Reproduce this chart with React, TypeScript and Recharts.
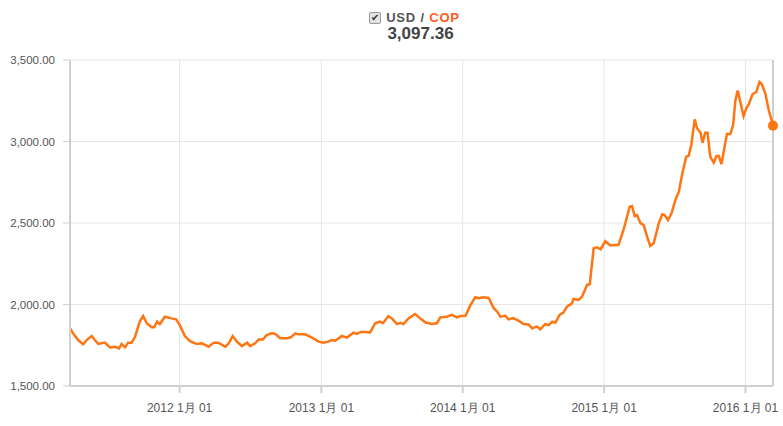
import React from 'react';
import { LineChart, Line, XAxis, YAxis, CartesianGrid, ReferenceLine } from 'recharts';

const dates: string[] = [
  '2011-03-24','2011-04-01','2011-04-14','2011-04-27','2011-05-06','2011-05-19','2011-05-27','2011-06-05','2011-06-22','2011-07-05',
  '2011-07-18','2011-07-29','2011-08-04','2011-08-13','2011-08-21','2011-08-30','2011-09-08','2011-09-20','2011-09-29','2011-10-08',
  '2011-10-21','2011-10-27','2011-11-04','2011-11-11','2011-11-24','2011-12-11','2011-12-23','2012-01-02','2012-01-15','2012-01-28',
  '2012-02-14','2012-02-27','2012-03-16','2012-03-29','2012-04-10','2012-04-28','2012-05-07','2012-05-17','2012-05-28','2012-06-10',
  '2012-06-23','2012-07-01','2012-07-14','2012-07-23','2012-08-03','2012-08-13','2012-08-26','2012-09-04','2012-09-17','2012-10-04',
  '2012-10-13','2012-10-26','2012-11-03','2012-11-20','2012-12-08','2012-12-25','2013-01-06','2013-01-19','2013-01-28','2013-02-06',
  '2013-02-23','2013-03-08','2013-03-25','2013-04-02','2013-04-15','2013-05-07','2013-05-20','2013-05-31','2013-06-09','2013-06-23',
  '2013-07-02','2013-07-15','2013-07-24','2013-08-01','2013-08-14','2013-08-31','2013-09-13','2013-09-26','2013-10-13','2013-10-26',
  '2013-11-04','2013-11-21','2013-12-04','2013-12-17','2013-12-26','2014-01-08','2014-01-21','2014-02-02','2014-02-11','2014-02-24',
  '2014-03-09','2014-03-22','2014-03-31','2014-04-08','2014-04-21','2014-04-29','2014-05-11','2014-05-25','2014-06-07','2014-06-20',
  '2014-06-29','2014-07-12','2014-07-20','2014-08-02','2014-08-11','2014-08-20','2014-08-28','2014-09-08','2014-09-18','2014-09-27',
  '2014-10-10','2014-10-14','2014-10-27','2014-11-05','2014-11-18','2014-11-25','2014-12-05','2014-12-14','2014-12-23','2015-01-04',
  '2015-01-17','2015-01-30','2015-02-07','2015-02-20','2015-03-08','2015-03-14','2015-03-21','2015-03-27','2015-04-05','2015-04-13',
  '2015-04-22','2015-04-30','2015-05-09','2015-05-22','2015-05-31','2015-06-06','2015-06-15','2015-06-24','2015-07-04','2015-07-13',
  '2015-07-21','2015-08-01','2015-08-07','2015-08-14','2015-08-23','2015-08-29','2015-09-07','2015-09-12','2015-09-19','2015-09-25',
  '2015-10-02','2015-10-11','2015-10-18','2015-10-24','2015-10-31','2015-11-08','2015-11-14','2015-11-23','2015-11-30','2015-12-06',
  '2015-12-12','2015-12-19','2015-12-27','2016-01-03','2016-01-10','2016-01-19','2016-01-29','2016-02-06','2016-02-12','2016-02-21',
  '2016-03-01','2016-03-12',
];

const rates: number[] = [
  1855,1823,1782,1756,1782,1807,1782,1758,1766,1737,
  1741,1731,1758,1737,1766,1766,1802,1895,1929,1885,
  1860,1860,1895,1880,1925,1915,1909,1870,1805,1775,
  1758,1762,1741,1766,1766,1741,1762,1807,1772,1745,
  1766,1745,1762,1786,1786,1813,1823,1819,1793,1793,
  1797,1823,1817,1817,1797,1772,1766,1772,1782,1778,
  1807,1797,1827,1819,1833,1829,1885,1895,1885,1929,
  1915,1880,1888,1880,1915,1942,1915,1891,1880,1885,
  1921,1925,1936,1921,1929,1931,1997,2044,2038,2044,
  2040,1977,1956,1925,1931,1909,1917,1901,1880,1878,
  1854,1864,1848,1880,1874,1895,1888,1936,1950,1987,
  2007,2034,2028,2048,2120,2124,2345,2351,2339,2388,
  2362,2365,2365,2457,2600,2604,2543,2549,2498,2488,
  2416,2359,2375,2498,2553,2549,2518,2559,2641,2692,
  2794,2907,2911,2979,3136,3081,3054,2993,3054,3054,
  2907,2870,2911,2911,2862,2968,3046,3046,3101,3255,
  3312,3239,3156,3204,3230,3290,3304,3365,3353,3296,
  3193,3097.36,
];

const xTickDates: string[] = ['2012-01-01', '2013-01-01', '2014-01-01', '2015-01-01', '2016-01-01'];
const yTicks: number[] = [1500, 2000, 2500, 3000, 3500];

const baseCurrency = 'USD';
const quoteCurrency = 'COP';

const data = dates.map((d, i) => ({ t: new Date(d).getTime(), v: rates[i] }));
const xTicks = xTickDates.map((d) => new Date(d).getTime());
const tMin = data[0].t;
const tMax = data[data.length - 1].t;
const lastValue = rates[rates.length - 1];

const fmtX = (t: number) => {
  const d = new Date(t);
  const dd = String(d.getUTCDate()).padStart(2, '0');
  return `${d.getUTCFullYear()} ${d.getUTCMonth() + 1}月 ${dd}`;
};
const fmtY = (v: number) =>
  v.toLocaleString('en-US', { minimumFractionDigits: 2, maximumFractionDigits: 2 });

const LINE = '#ff7512';

const renderDot = (props: any) => {
  const { cx, cy, index } = props;
  if (index === data.length - 1) {
    return <circle key={`d${index}`} cx={cx} cy={cy} r={5} fill={LINE} stroke="none" />;
  }
  return <g key={`d${index}`} />;
};

export default function App() {
  const font = '"Liberation Sans", Arial, sans-serif';
  return (
    <div style={{ position: 'absolute', left: 0, top: 0, width: 783, height: 426, background: '#fff', fontFamily: font }}>
      <div style={{ position: 'absolute', top: 7, left: 0, width: 783, textAlign: 'center' }}>
        <div style={{ display: 'inline-flex', alignItems: 'center', marginLeft: 46 }}>
          <span
            style={{
              display: 'inline-block', width: 10, height: 10, border: '1px solid #9a9a9a', borderRadius: 2,
              background: '#e3e3e3', fontSize: 10, lineHeight: '10px', color: '#333', textAlign: 'center', marginRight: 5,
            }}
          >
            ✔
          </span>
          <span style={{ fontSize: 13, fontWeight: 'bold', letterSpacing: 0.8, color: '#555', lineHeight: '16px' }}>
            {baseCurrency} / <span style={{ color: '#ff5a1f' }}>{quoteCurrency}</span>
          </span>
        </div>
      </div>
      <div style={{ position: 'absolute', top: 24, left: 0, width: 783, textAlign: 'center' }}>
        <span style={{ display: 'inline-block', marginLeft: 58, fontSize: 17, fontWeight: 'bold', color: '#444', lineHeight: '20px' }}>
          {fmtY(lastValue)}
        </span>
      </div>
      <div style={{ position: 'absolute', left: 0, top: 0 }}>
        <LineChart width={783} height={426} data={data} margin={{ top: 60, right: 10, bottom: 0, left: 0 }}>
          <CartesianGrid stroke="#e6e6e6" strokeWidth={1} />
          <XAxis
            dataKey="t"
            type="number"
            scale="time"
            domain={[tMin, tMax]}
            ticks={xTicks}
            tickFormatter={fmtX}
            height={40}
            axisLine={{ stroke: '#cfcfcf', strokeWidth: 2 }}
            tickLine={{ stroke: '#cfcfcf', strokeWidth: 2 }}
            tickSize={7}
            tickMargin={10}
            tick={{ fill: '#555', fontSize: 12, fontFamily: font }}
          />
          <YAxis
            domain={[1500, 3500]}
            ticks={yTicks}
            tickFormatter={fmtY}
            width={70}
            axisLine={{ stroke: '#cfcfcf', strokeWidth: 2 }}
            tickLine={{ stroke: '#cfcfcf', strokeWidth: 1 }}
            tickSize={7}
            tickMargin={8}
            tick={{ fill: '#555', fontSize: 11.5, fontFamily: font }}
          />
          <ReferenceLine x={tMax} stroke="#cfcfcf" strokeWidth={2} />
          <Line
            dataKey="v"
            type="linear"
            stroke={LINE}
            strokeWidth={2.5}
            dot={renderDot}
            activeDot={false}
            isAnimationActive={false}
          />
        </LineChart>
      </div>
    </div>
  );
}
